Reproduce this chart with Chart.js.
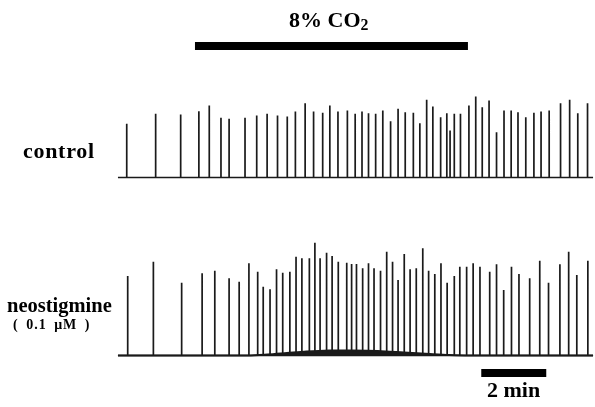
<!DOCTYPE html>
<html>
<head>
<meta charset="utf-8">
<script src="https://cdn.jsdelivr.net/npm/chart.js@4.4.1/dist/chart.umd.min.js"></script>
<style>
  html, body { margin: 0; padding: 0; background: #fff; }
  #wrap { position: relative; width: 595px; height: 407px; overflow: hidden; }
  canvas { position: absolute; left: 0; top: 0; }
  .lbl { position: absolute; font-family: "Liberation Serif", "DejaVu Serif", serif; font-weight: bold; color: #000; white-space: nowrap; line-height: 1; }
  .lbl sub { font-size: 0.72em; vertical-align: -0.18em; line-height: 0; }
</style>
</head>
<body>
<div id="wrap">
  <canvas id="c" width="595" height="407"></canvas>
  <div class="lbl" style="left:289px; top:9px; font-size:22px;">8% CO<sub>2</sub></div>
  <div class="lbl" style="left:23px; top:139.5px; font-size:22px; letter-spacing:0.7px;">control</div>
  <div class="lbl" style="left:7px; top:294.8px; font-size:20.5px;">neostigmine</div>
  <div class="lbl" style="left:13px; top:317.5px; font-size:14px; letter-spacing:1px; word-spacing:3px;">( 0.1 μM )</div>
  <div class="lbl" style="left:487px; top:378.6px; font-size:22px;">2 min</div>
</div>
<script>
// ---- Data (time in min, amplitude in arbitrary units) ----
const recordStart = 0.0;
const recordEnd = 14.62;

const controlTimes = [0.27,1.16,1.93,2.49,2.81,3.17,3.42,3.91,4.27,4.59,4.91,5.21,5.46,5.76,6.02,6.30,6.52,6.77,7.06,7.30,7.51,7.71,7.93,8.15,8.39,8.62,8.84,9.09,9.29,9.50,9.69,9.93,10.12,10.22,10.35,10.54,10.80,11.01,11.21,11.42,11.65,11.88,12.10,12.31,12.55,12.80,13.02,13.27,13.62,13.90,14.15,14.45];
const controlAmps  = [53.7,63.7,63,66.3,72,59.7,58.7,59.7,62,63.7,62,61,66,74.3,66,64.7,72,66,67,63.7,66,64.3,63.7,67,56.3,68.7,65.3,64.7,54.3,77.7,71,60.3,64.3,47,63.7,63.7,72,81,70.3,77,45.3,67,67,65.3,60.3,64.7,66,67,74.3,77.7,64.3,74.3];

const neoTimes = [0.30,1.09,1.96,2.59,2.98,3.42,3.73,4.03,4.30,4.47,4.68,4.88,5.07,5.29,5.48,5.66,5.89,6.06,6.22,6.42,6.59,6.78,7.04,7.19,7.34,7.53,7.71,7.88,8.08,8.27,8.45,8.62,8.81,8.99,9.18,9.38,9.56,9.75,9.94,10.13,10.35,10.52,10.73,10.93,11.14,11.44,11.65,11.87,12.11,12.34,12.67,12.98,13.25,13.60,13.87,14.12,14.46];
const neoAmps  = [79.5,93.8,72.8,82.2,84.8,77.2,73.8,92.2,83.8,68.8,66.2,86.2,82.8,83.8,98.8,97.2,97.2,112.8,97.2,102.8,99.5,93.8,92.8,91.5,91.5,87.2,92.2,87.2,84.8,103.8,93.8,75.5,101.5,86.2,87.2,107.2,84.8,81.5,92.2,72.8,79.5,88.8,88.8,92.2,88.8,83.8,91.2,65.5,88.8,81.5,77.2,94.8,72.8,91.2,103.8,80.5,94.8];

// slow baseline shift in the neostigmine trace
const neoDriftTimes = [0.0,4.0,4.6,5.2,5.8,6.5,7.2,8.0,8.8,9.6,10.2,10.8,14.62];
const neoDriftAmps  = [0,0,1,2.5,4,5,5,4.5,3,1.5,0.5,0,0];

// 8% CO2 application period (min) and the 2-min scale bar
const co2Period = [2.37, 10.77];
const scaleBar = [11.18, 13.18];

// ---- Build line points from the arrays ----
function spikeTrace(times, amps) {
  const pts = [{x: recordStart, y: 0}];
  times.forEach((t, i) => {
    pts.push({x: t, y: 0}, {x: t, y: amps[i]}, {x: t, y: 0});
  });
  pts.push({x: recordEnd, y: 0});
  return pts;
}
function series(xs, ys) { return xs.map((x, i) => ({x, y: ys[i]})); }

const ink = '#1a1a1a';
const ctx = document.getElementById('c').getContext('2d');
new Chart(ctx, {
  type: 'line',
  data: {
    datasets: [
      { label: 'control', data: spikeTrace(controlTimes, controlAmps), yAxisID: 'yC',
        borderColor: ink, borderWidth: 1.7, pointRadius: 0, tension: 0, fill: false },
      { label: 'neostigmine drift', data: series(neoDriftTimes, neoDriftAmps), yAxisID: 'yN',
        borderColor: ink, backgroundColor: ink, borderWidth: 2, pointRadius: 0, tension: 0.3, fill: 'origin' },
      { label: 'neostigmine', data: spikeTrace(neoTimes, neoAmps), yAxisID: 'yN',
        borderColor: ink, borderWidth: 1.7, pointRadius: 0, tension: 0, fill: false },
      { label: 'CO2', data: co2Period.map(t => ({x: t, y: 131.5})), yAxisID: 'yC',
        borderColor: '#000', borderWidth: 8, borderCapStyle: 'butt', pointRadius: 0, fill: false },
      { label: 'scale', data: scaleBar.map(t => ({x: t, y: -17.5})), yAxisID: 'yN',
        borderColor: '#000', borderWidth: 8, borderCapStyle: 'butt', pointRadius: 0, fill: false }
    ]
  },
  options: {
    responsive: false,
    animation: false,
    devicePixelRatio: 1,
    layout: { padding: 0 },
    plugins: { legend: { display: false }, tooltip: { enabled: false }, title: { display: false } },
    scales: {
      x: { type: 'linear', min: -3.63, max: 14.68, display: false },
      yC: { type: 'linear', min: -229.5, max: 177.5, display: false },
      yN: { type: 'linear', min: -51.5, max: 355.5, display: false }
    }
  }
});
</script>
</body>
</html>
